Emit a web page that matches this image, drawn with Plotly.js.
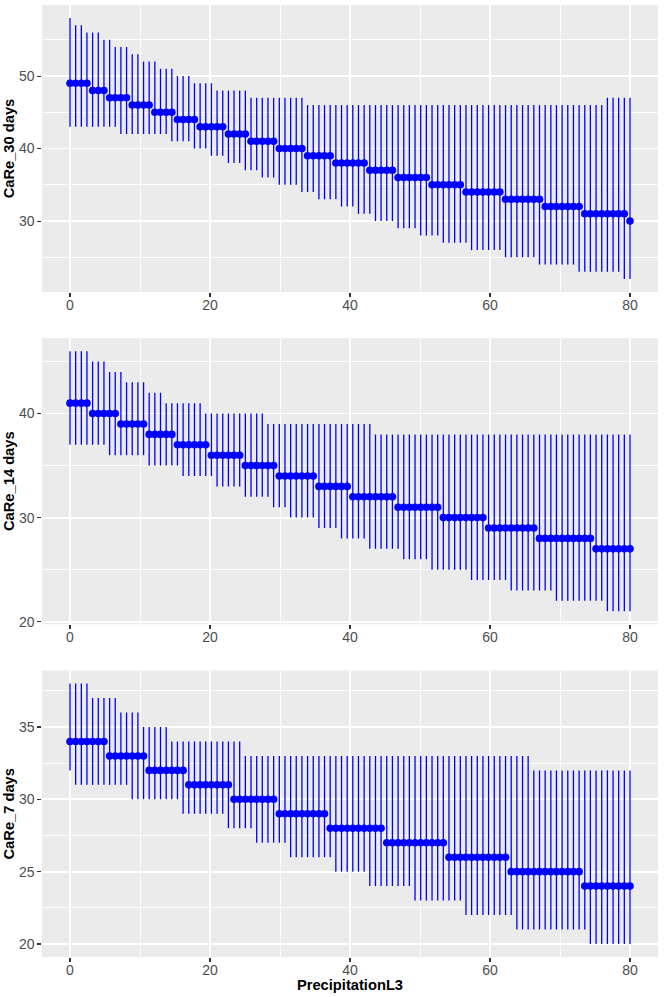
<!DOCTYPE html>
<html>
<head>
<meta charset="utf-8">
<script src="https://cdn.plot.ly/plotly-3.0.1.min.js"></script>
<style>
html,body{margin:0;padding:0;background:#ffffff;}
#chart{width:664px;height:997px;}
</style>
</head>
<body>
<div id="chart"></div>
<script>
// ---- data ----
const precipitationL3 = [
  0, 0.81, 1.62, 2.42, 3.23, 4.04, 4.85, 5.66, 6.46, 7.27,
  8.08, 8.89, 9.70, 10.51, 11.31, 12.12, 12.93, 13.74, 14.55, 15.35,
  16.16, 16.97, 17.78, 18.59, 19.39, 20.20, 21.01, 21.82, 22.63, 23.43,
  24.24, 25.05, 25.86, 26.67, 27.47, 28.28, 29.09, 29.90, 30.71, 31.52,
  32.32, 33.13, 33.94, 34.75, 35.56, 36.36, 37.17, 37.98, 38.79, 39.60,
  40.40, 41.21, 42.02, 42.83, 43.64, 44.44, 45.25, 46.06, 46.87, 47.68,
  48.48, 49.29, 50.10, 50.91, 51.72, 52.53, 53.33, 54.14, 54.95, 55.76,
  56.57, 57.37, 58.18, 58.99, 59.80, 60.61, 61.41, 62.22, 63.03, 63.84,
  64.65, 65.45, 66.26, 67.07, 67.88, 68.69, 69.49, 70.30, 71.11, 71.92,
  72.73, 73.54, 74.34, 75.15, 75.96, 76.77, 77.58, 78.38, 79.19, 80
];

const care30_mid = [
  49,49,49,49,48,48,48,47,47,47,
  47,46,46,46,46,45,45,45,45,44,
  44,44,44,43,43,43,43,43,42,42,
  42,42,41,41,41,41,41,40,40,40,
  40,40,39,39,39,39,39,38,38,38,
  38,38,38,37,37,37,37,37,36,36,
  36,36,36,36,35,35,35,35,35,35,
  34,34,34,34,34,34,34,33,33,33,
  33,33,33,33,32,32,32,32,32,32,
  32,31,31,31,31,31,31,31,31,30
];
const care30_hi = [
  58,57,57,56,56,56,55,55,54,54,
  54,53,53,52,52,52,51,51,51,50,
  50,50,49,49,49,49,48,48,48,48,
  48,48,47,47,47,47,47,47,47,47,
  47,47,46,46,46,46,46,46,46,46,
  46,46,46,46,46,46,46,46,46,46,
  46,46,46,46,46,46,46,46,46,46,
  46,46,46,46,46,46,46,46,46,46,
  46,46,46,46,46,46,46,46,46,46,
  46,46,46,46,46,47,47,47,47,47
];
const care30_lo = [
  43,43,43,43,43,43,43,43,43,42,
  42,42,42,42,42,42,42,42,41,41,
  41,41,40,40,40,39,39,39,38,38,
  38,37,37,37,36,36,36,35,35,35,
  35,34,34,34,33,33,33,33,32,32,
  32,31,31,31,30,30,30,30,29,29,
  29,29,28,28,28,28,27,27,27,27,
  27,26,26,26,26,26,26,25,25,25,
  25,25,25,24,24,24,24,24,24,24,
  23,23,23,23,23,23,23,23,22,22
];

const care14_mid = [
  41,41,41,41,40,40,40,40,40,39,
  39,39,39,39,38,38,38,38,38,37,
  37,37,37,37,37,36,36,36,36,36,
  36,35,35,35,35,35,35,34,34,34,
  34,34,34,34,33,33,33,33,33,33,
  32,32,32,32,32,32,32,32,31,31,
  31,31,31,31,31,31,30,30,30,30,
  30,30,30,30,29,29,29,29,29,29,
  29,29,29,28,28,28,28,28,28,28,
  28,28,28,27,27,27,27,27,27,27
];
const care14_hi = [
  46,46,46,46,45,45,45,44,44,44,
  43,43,43,43,42,42,42,41,41,41,
  41,41,41,41,40,40,40,40,40,40,
  40,40,40,40,40,39,39,39,39,39,
  39,39,39,39,39,39,39,39,39,39,
  39,39,39,39,38,38,38,38,38,38,
  38,38,38,38,38,38,38,38,38,38,
  38,38,38,38,38,38,38,38,38,38,
  38,38,38,38,38,38,38,38,38,38,
  38,38,38,38,38,38,38,38,38,38
];
const care14_lo = [
  37,37,37,37,37,37,37,36,36,36,
  36,36,36,36,35,35,35,35,35,35,
  34,34,34,34,34,34,33,33,33,33,
  33,32,32,32,32,32,31,31,31,30,
  30,30,30,30,29,29,29,29,28,28,
  28,28,28,27,27,27,27,27,27,26,
  26,26,26,26,25,25,25,25,25,25,
  25,24,24,24,24,24,24,24,23,23,
  23,23,23,23,23,23,22,22,22,22,
  22,22,22,22,22,21,21,21,21,21
];

const care7_mid = [
  34,34,34,34,34,34,34,33,33,33,
  33,33,33,33,32,32,32,32,32,32,
  32,31,31,31,31,31,31,31,31,30,
  30,30,30,30,30,30,30,29,29,29,
  29,29,29,29,29,29,28,28,28,28,
  28,28,28,28,28,28,27,27,27,27,
  27,27,27,27,27,27,27,26,26,26,
  26,26,26,26,26,26,26,26,25,25,
  25,25,25,25,25,25,25,25,25,25,
  25,24,24,24,24,24,24,24,24,24
];
const care7_hi = [
  38,38,38,38,37,37,37,37,37,36,
  36,36,36,35,35,35,35,35,34,34,
  34,34,34,34,34,34,34,34,34,34,
  34,33,33,33,33,33,33,33,33,33,
  33,33,33,33,33,33,33,33,33,33,
  33,33,33,33,33,33,33,33,33,33,
  33,33,33,33,33,33,33,33,33,33,
  33,33,33,33,33,33,33,33,33,33,
  33,33,32,32,32,32,32,32,32,32,
  32,32,32,32,32,32,32,32,32,32
];
const care7_lo = [
  32,31,31,31,31,31,31,31,31,31,
  31,30,30,30,30,30,30,30,30,30,
  29,29,29,29,29,29,29,29,28,28,
  28,28,28,27,27,27,27,27,27,26,
  26,26,26,26,26,26,26,25,25,25,
  25,25,25,24,24,24,24,24,24,24,
  24,23,23,23,23,23,23,23,23,23,
  22,22,22,22,22,22,22,22,22,21,
  21,21,21,21,21,21,21,21,21,21,
  21,21,20,20,20,20,20,20,20,20
];

const xTickVals = [0, 20, 40, 60, 80];
const yTickVals30 = [30, 40, 50];
const yTickVals14 = [20, 30, 40];
const yTickVals7 = [20, 25, 30, 35];

const yTitles = ['CaRe_30 days', 'CaRe_14 days', 'CaRe_7 days'];
const xTitle = 'PrecipitationL3';

// ---- drawing ----
const W = 664, H = 997;
const margin = {l: 42.3, r: 5.7, t: 5, b: 40.4};
const plotH = H - margin.t - margin.b;
function dom(topPx, botPx) {
  return [(H - margin.b - botPx) / plotH, (H - margin.b - topPx) / plotH];
}

const panels = [
  {mid: care30_mid, hi: care30_hi, lo: care30_lo, ticks: yTickVals30, range: [20.2, 59.8], minor: 5, dom: dom(5, 292)},
  {mid: care14_mid, hi: care14_hi, lo: care14_lo, ticks: yTickVals14, range: [19.75, 47.25], minor: 5, dom: dom(338, 624)},
  {mid: care7_mid, hi: care7_hi, lo: care7_lo, ticks: yTickVals7, range: [19.1, 38.9], minor: 2.5, dom: dom(670.3, 956.6)}
];

const FONT = 'Liberation Sans, Arial, Helvetica, sans-serif';
const tickFont = {family: FONT, size: 14, color: '#4D4D4D'};
const titleFont = {family: FONT, size: 14.7, color: '#000000', weight: 'bold'};

const traces = [];
const layout = {
  width: W, height: H,
  margin: margin,
  paper_bgcolor: '#FFFFFF',
  plot_bgcolor: '#EBEBEB',
  showlegend: false,
  hovermode: false
};

panels.forEach((p, k) => {
  const n = k + 1;
  const xa = 'x' + (n === 1 ? '' : n);
  const ya = 'y' + (n === 1 ? '' : n);
  traces.push({
    type: 'scatter', mode: 'markers',
    x: precipitationL3, y: p.mid,
    xaxis: xa, yaxis: ya,
    marker: {color: '#0000FF', size: 7.6, line: {width: 0}},
    error_y: {
      type: 'data', symmetric: false,
      array: p.hi.map((v, i) => v - p.mid[i]),
      arrayminus: p.mid.map((v, i) => v - p.lo[i]),
      color: '#0000FF', thickness: 1.3, width: 0
    }
  });
  const common = {
    showline: false, zeroline: false,
    ticks: 'outside', ticklen: 3.7, tickwidth: 1.07, tickcolor: '#333333',
    tickfont: tickFont,
    showgrid: true, gridcolor: '#FFFFFF', gridwidth: 1.8,
    fixedrange: true
  };
  layout['xaxis' + (n === 1 ? '' : n)] = Object.assign({}, common, {
    anchor: ya, domain: [0, 1],
    range: [-4, 84],
    tickmode: 'array', tickvals: xTickVals, ticktext: xTickVals.map(String),
    ticklabelstandoff: -4,
    minor: {tickmode: 'linear', tick0: 0, dtick: 10, showgrid: true, gridcolor: '#FFFFFF', gridwidth: 0.9, ticks: ''},
    title: n === 3 ? {text: xTitle, font: titleFont, standoff: 2} : {text: ''}
  });
  layout['yaxis' + (n === 1 ? '' : n)] = Object.assign({}, common, {
    anchor: xa, domain: p.dom,
    range: p.range,
    tickmode: 'array', tickvals: p.ticks, ticktext: p.ticks.map(String),
    minor: {tickmode: 'linear', tick0: 0, dtick: p.minor, showgrid: true, gridcolor: '#FFFFFF', gridwidth: 0.9, ticks: ''},
    title: {text: yTitles[k], font: titleFont, standoff: 0}
  });
});

Plotly.newPlot('chart', traces, layout, {displayModeBar: false, staticPlot: true});
</script>
</body>
</html>
